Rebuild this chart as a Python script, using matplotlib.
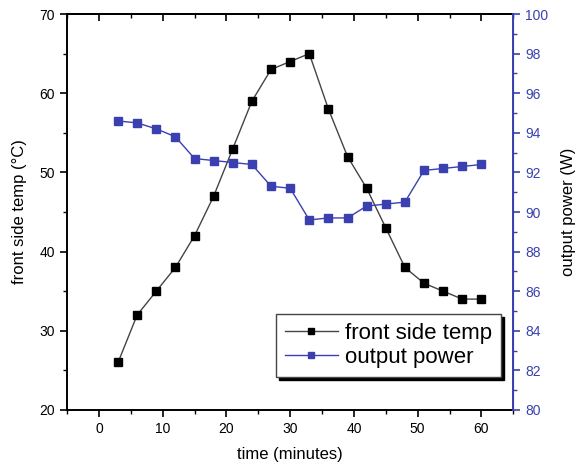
import matplotlib.pyplot as plt
from matplotlib.ticker import MultipleLocator

plt.rcParams['font.family'] = ['Liberation Sans', 'DejaVu Sans']

time_min = [3, 6, 9, 12, 15, 18, 21, 24, 27, 30, 33, 36, 39, 42, 45, 48, 51, 54, 57, 60]
front_temp = [26, 32, 35, 38, 42, 47, 53, 59, 63, 64, 65, 58, 52, 48, 43, 38, 36, 35, 34, 34]
output_power = [94.6, 94.5, 94.2, 93.8, 92.7, 92.6, 92.5, 92.4, 91.3, 91.2,
                89.6, 89.7, 89.7, 90.3, 90.4, 90.5, 92.1, 92.2, 92.3, 92.4]

BLUE = "#3a40b0"

fig = plt.figure(figsize=(5.78, 4.68), dpi=100)
ax = fig.add_axes([0.116, 0.124, 0.772, 0.846])
ax2 = ax.twinx()

l1, = ax.plot(time_min, front_temp, color="#444444", lw=1.0, marker="s",
              markersize=5.8, markerfacecolor="black", markeredgecolor="black",
              label="front side temp")
l2, = ax2.plot(time_min, output_power, color=BLUE, lw=1.0, marker="s",
               markersize=5.8, markerfacecolor=BLUE, markeredgecolor=BLUE,
               label="output power")

ax.set_xlim(-5, 65)
ax.set_ylim(20, 70)
ax2.set_ylim(80, 100)

ax.xaxis.set_major_locator(MultipleLocator(10))
ax.xaxis.set_minor_locator(MultipleLocator(5))
ax.yaxis.set_major_locator(MultipleLocator(10))
ax.yaxis.set_minor_locator(MultipleLocator(5))
ax2.yaxis.set_major_locator(MultipleLocator(2))
ax2.yaxis.set_minor_locator(MultipleLocator(1))

ax.tick_params(axis="x", which="both", direction="out", top=False, labelsize=10)
ax.tick_params(axis="x", which="major", length=5, width=1.2)
ax.tick_params(axis="x", which="minor", length=3, width=1.0)
ax.tick_params(axis="y", which="major", direction="out", length=5, width=1.2, labelsize=10)
ax.tick_params(axis="y", which="minor", direction="out", length=3, width=1.0)
ax2.tick_params(axis="y", which="major", direction="out", length=5, width=1.2,
                colors=BLUE, labelsize=10)
ax2.tick_params(axis="y", which="minor", direction="out", length=3, width=1.0, colors=BLUE)

# top ticks point inward like the original
sec = ax.secondary_xaxis("top")
sec.xaxis.set_major_locator(MultipleLocator(10))
sec.xaxis.set_minor_locator(MultipleLocator(5))
sec.tick_params(axis="x", which="both", direction="in", labeltop=False)
sec.tick_params(axis="x", which="major", length=5, width=1.2)
sec.tick_params(axis="x", which="minor", length=3, width=1.0)
sec.spines["top"].set_linewidth(1.4)

for s in ["left", "bottom", "top"]:
    ax.spines[s].set_linewidth(1.4)
for s in ["left", "bottom", "top"]:
    ax2.spines[s].set_visible(False)
ax2.spines["right"].set_color(BLUE)
ax2.spines["right"].set_linewidth(1.4)

ax.set_xlabel("time (minutes)", fontsize=12, labelpad=8)
ax.set_ylabel("front side temp (°C)", fontsize=12, labelpad=9)
ax2.set_ylabel("output power (W)", fontsize=12, labelpad=9)

leg = ax2.legend([l1, l2], ["front side temp", "output power"],
                 loc="lower right", bbox_to_anchor=(0.997, 0.055),
                 fontsize=16, fancybox=False,
                 shadow={"color": "black", "alpha": 1.0}, framealpha=1,
                 edgecolor="#444444", handlelength=2.4, handletextpad=0.3,
                 borderpad=0.4, labelspacing=0.15, markerscale=0.7)
leg.get_frame().set_linewidth(1.0)

fig.savefig("out.png", dpi=100)
